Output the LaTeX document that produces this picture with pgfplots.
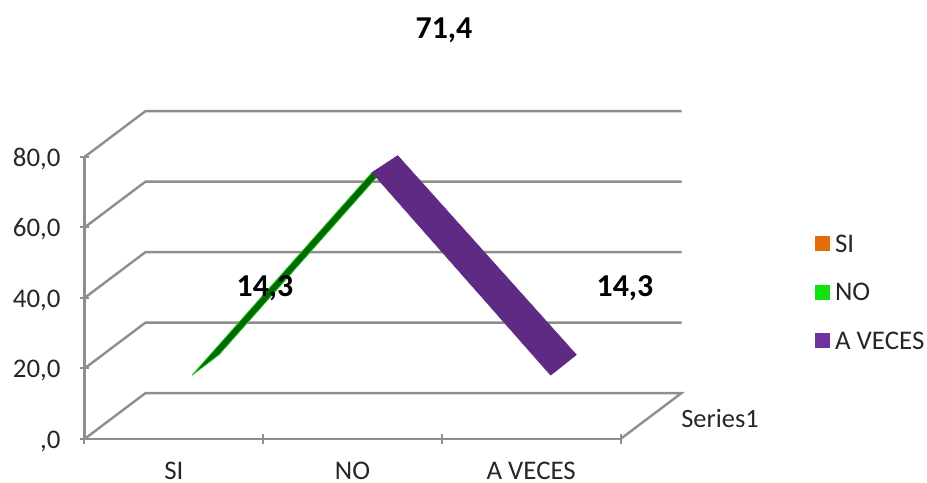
\documentclass[border=0pt]{standalone}
\usepackage{pgfplots}
\pgfplotsset{compat=1.18}
\usepackage{fontspec}
\setmainfont{Carlito}
\definecolor{gridgray}{HTML}{8E8E8E}
\definecolor{labelgray}{HTML}{262626}
\definecolor{sibox}{HTML}{E46C0A}
\definecolor{nobox}{HTML}{12E212}
\definecolor{avbox}{HTML}{7030A0}
\definecolor{avface}{HTML}{5E2A84}
\definecolor{noface}{HTML}{006A00}
\definecolor{noedge}{HTML}{22C422}
\begin{document}
\begin{tikzpicture}
\begin{axis}[
    scale only axis,
    width=536bp, height=282bp,
    xmin=0, xmax=3, ymin=0, ymax=80,
    clip=false,
    axis lines=left,
    axis line style={gridgray, line width=2.4bp, -},
    tick style={gridgray, line width=2bp},
    major tick length=9bp,
    xtick={0,1,2,3}, xticklabels={},
    extra x ticks={0.5,1.5,2.5},
    extra x tick labels={SI,NO,A VECES},
    extra x tick style={major tick length=0bp},
    xticklabel style={font=\fontsize{27}{32}\selectfont, text=labelgray, inner sep=0pt, yshift=-23bp},
    ytick={0,20,40,60,80},
    yticklabels={{,0},{20,0},{40,0},{60,0},{80,0}},
    yticklabel style={font=\fontsize{27}{32}\selectfont, text=labelgray, xshift=-16bp, yshift=-2bp},
    legend style={at={(axis cs:4.088,58.5)}, anchor=north west, draw=none, fill=none,
        font=\fontsize{27}{32}\selectfont, text=labelgray, row sep=25.5bp, inner sep=0pt},
    legend cell align=left,
    legend image code/.code={\fill[#1, draw=none] (0bp,-7bp) rectangle (15bp,8bp);
        \path[draw=none, fill=none] (0bp,0bp) -- (18bp,0bp);},
]
% side wall and floor edges
\addplot[forget plot, gridgray, line width=2.4bp] coordinates {(0,0) (0.3414,13.03) (3.3414,13.03) (3,0)};
\addplot[forget plot, gridgray, line width=2.4bp] coordinates {(0,20) (0.3414,33.03) (3.3414,33.03)};
\addplot[forget plot, gridgray, line width=2.4bp] coordinates {(0,40) (0.3414,53.03) (3.3414,53.03)};
\addplot[forget plot, gridgray, line width=2.4bp] coordinates {(0,60) (0.3414,73.03) (3.3414,73.03)};
\addplot[forget plot, gridgray, line width=2.4bp] coordinates {(0,80) (0.3414,93.03) (3.3414,93.03)};
% ribbon: values 14.3, 71.4, 14.3 seen with depth
\addplot[forget plot, fill=noface, draw=noedge, line width=0.8bp] coordinates
    {(0.602,18.1) (0.753,23.9) (1.65,75.1) (1.609,75.6)} -- cycle;
\addplot[forget plot, fill=avface, draw=avface, line width=0.5bp] coordinates
    {(1.609,75.6) (1.753,80.4) (2.753,23.9) (2.609,18.1)} -- cycle;
\addlegendimage{fill=sibox}
\addlegendimage{fill=nobox}
\addlegendimage{fill=avbox}
\legend{SI,NO,A VECES}
\node[font=\fontsize{32}{38}\selectfont\bfseries] at (axis cs:2.012,115.8) {71,4};
\node[font=\fontsize{32}{38}\selectfont\bfseries] at (axis cs:1.01,42.8) {14,3};
\node[font=\fontsize{32}{38}\selectfont\bfseries] at (axis cs:3.025,42.8) {14,3};
\node[font=\fontsize{26.5}{31}\selectfont, text=labelgray] at (axis cs:3.557,5.95) {Series1};
\end{axis}
\pgfresetboundingbox
\path[use as bounding box] (-84.5bp,-44bp) rectangle (842.5bp,439bp);
\end{tikzpicture}
\end{document}
